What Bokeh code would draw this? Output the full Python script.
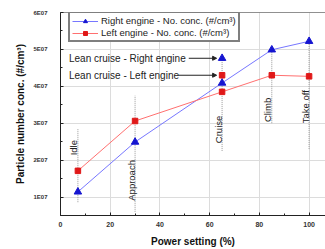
import math
from bokeh.plotting import figure
from bokeh.models import (Range1d, SingleIntervalTicker, Span, Legend, LegendItem,
                          Arrow, NormalHead)
from bokeh.core.properties import value
from bokeh.embed import file_html
from bokeh.resources import INLINE

# ---- data ----
power = [7, 30, 65, 85, 100]
phase_labels = ["Idle", "Approach", "Cruise", "Climb", "Take off"]
right_engine = [1.14e7, 2.49e7, 4.09e7, 4.99e7, 5.22e7]
left_engine = [1.71e7, 3.06e7, 3.85e7, 4.30e7, 4.27e7]
lean_x = 65
lean_right = 4.76e7
lean_left = 4.30e7
y_ticks = [1e7, 2e7, 3e7, 4e7, 5e7, 6e7]
y_tick_labels = ["1E07", "2E07", "3E07", "4E07", "5E07", "6E07"]

# annotation placement (vertical dotted guides + label anchors)
guide_low = [0.86e7, 0.6e7, 2.25e7, 3.0e7, 2.3e7]
guide_high = [2.86e7, 3.75e7, 4.85e7, 5.05e7, 5.3e7]
label_y = [2.13e7, 0.9e7, 2.46e7, 3.03e7, 3.0e7]

FONT = "Liberation Sans"

p = figure(width=325, height=249, output_backend="svg", toolbar_location=None,
           x_range=Range1d(0, 106.6), y_range=Range1d(5e6, 6e7),
           min_border_left=60, min_border_right=0, min_border_top=12, min_border_bottom=34)
p.outline_line_color = None
p.background_fill_color = "white"
p.border_fill_color = "white"

# grid
p.xgrid.grid_line_color = "#dcdcdc"
p.ygrid.grid_line_color = "#dcdcdc"

# axes
p.xaxis.ticker = SingleIntervalTicker(interval=20, num_minor_ticks=2)
p.yaxis.ticker = SingleIntervalTicker(interval=1e7, num_minor_ticks=2)
p.yaxis.major_label_overrides = {t: l for t, l in zip(y_ticks, y_tick_labels)}
for ax in (p.xaxis[0], p.yaxis[0]):
    ax.axis_line_color = "#222222"
    ax.axis_line_width = 1
    ax.major_tick_in = 3
    ax.major_tick_out = 0
    ax.minor_tick_in = 2
    ax.minor_tick_out = 0
    ax.major_tick_line_color = "#222222"
    ax.minor_tick_line_color = "#222222"
    ax.major_label_text_font = FONT
    ax.major_label_text_font_style = "bold"
    ax.major_label_text_color = "#333333"
    ax.axis_label_text_font = FONT
    ax.axis_label_text_font_size = "10px"
    ax.axis_label_text_font_style = "bold"
    ax.axis_label_text_color = "#111111"
p.xaxis.major_label_text_font_size = "7px"
p.yaxis.major_label_text_font_size = "6px"
p.xaxis.axis_label = "Power setting (%)"
p.yaxis.axis_label = "Particle number conc. (#/cm\u00b3)"
p.xaxis.major_label_standoff = 6
p.xaxis.axis_label_standoff = 6
p.yaxis.major_label_standoff = 13
p.yaxis.axis_label_standoff = 4

# top frame line
p.add_layout(Span(location=6e7, dimension="width", line_color="#222222", line_width=1))

# guides
for x, lo, hi in zip(power, guide_low, guide_high):
    p.line([x, x], [lo, hi], line_color="#999999", line_dash="1 1", line_width=1)

p.text(x=power, y=label_y, text=phase_labels, angle=math.pi / 2,
       text_font=value(FONT), text_font_size="9.5px", text_color="#222222",
       text_align="left", text_baseline="middle", x_offset=-4)

# series
rl = p.line(power, right_engine, line_color="#7777ff", line_width=1)
rs = p.scatter(power, right_engine, marker="triangle", size=7.5,
               fill_color="#1515d0", line_color="#1515d0")
ll = p.line(power, left_engine, line_color="#ff7070", line_width=1)
ls = p.scatter(power, left_engine, marker="square", size=5.5,
               fill_color="#e01818", line_color="#e01818")

# lean cruise points
p.scatter([lean_x], [lean_right], marker="triangle", size=7.5,
          fill_color="#1515d0", line_color="#1515d0")
p.scatter([lean_x], [lean_left], marker="square", size=5.5,
          fill_color="#e01818", line_color="#e01818")

# lean cruise annotations
p.text(x=[3.4, 3.4], y=[lean_right, lean_left],
       text=["Lean cruise - Right engine", "Lean cruise - Left engine"],
       text_font=value(FONT), text_font_size="10px", text_color="#222222",
       text_align="left", text_baseline="middle")
for yv, xs in ((lean_right, 51.6), (lean_left, 47.4)):
    p.add_layout(Arrow(end=NormalHead(size=4, fill_color="#222222", line_color="#222222"),
                       x_start=xs, y_start=yv, x_end=62.8, y_end=yv,
                       line_color="#222222", line_width=1))

legend = Legend(items=[
    LegendItem(label="Right engine - No. conc. (#/cm\u00b3)", renderers=[rl, rs]),
    LegendItem(label="Left engine - No. conc. (#/cm\u00b3)", renderers=[ll, ls]),
], location=(8, 173))
legend.label_text_font = FONT
legend.label_text_font_size = "9.5px"
legend.label_text_color = "#222222"
legend.glyph_width = 26
legend.glyph_height = 10
legend.label_height = 10
legend.label_standoff = 3
legend.spacing = 1
legend.padding = 2
legend.margin = 0
legend.border_line_color = "black"
legend.border_line_width = 2
legend.background_fill_alpha = 1
p.add_layout(legend, "center")

open("out.html", "w").write(file_html(p, INLINE))
